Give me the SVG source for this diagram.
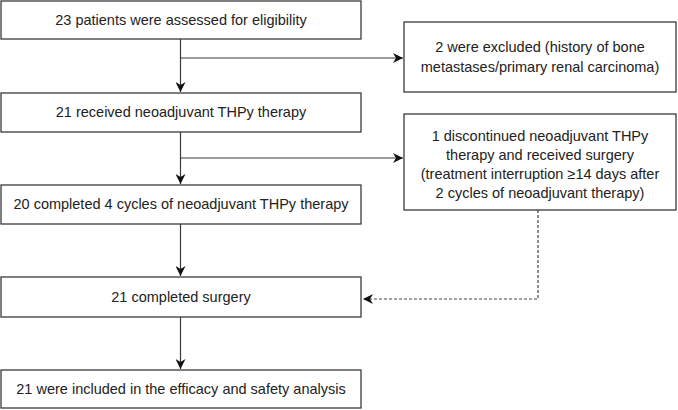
<svg xmlns="http://www.w3.org/2000/svg" width="678" height="410" viewBox="0 0 678 410">
<defs>
<style>
.box{fill:#fff;stroke:#3a3a3a;stroke-width:1.3}
.t{font-family:"Liberation Sans",Arial,sans-serif;font-size:14.5px;fill:#222;text-anchor:middle}
.c{fill:none;stroke:#3a3a3a;stroke-width:1.2}
.d{fill:none;stroke:#444;stroke-width:1.2;stroke-dasharray:3,2}
</style>
<marker id="ah" viewBox="0 0 10 10" refX="10" refY="5" markerWidth="10" markerHeight="10" markerUnits="userSpaceOnUse" orient="auto">
<path d="M0,0 L10,5 L0,10 L3,5 z" fill="#111"/>
</marker>
</defs>
<g id="connectors">
<path class="c" d="M180.5,39 V92" marker-end="url(#ah)"/>
<path class="c" d="M180.5,58 H403" marker-end="url(#ah)"/>
<path class="c" d="M180.5,132 V184" marker-end="url(#ah)"/>
<path class="c" d="M180.5,158 H403" marker-end="url(#ah)"/>
<path class="c" d="M180.5,224 V276" marker-end="url(#ah)"/>
<path class="c" d="M180.5,317 V369" marker-end="url(#ah)"/>
<path class="d" d="M538,210 V299 H363" marker-end="url(#ah)"/>
</g>
<g id="n1"><rect class="box" x="1" y="1" width="360" height="38"/><text class="t" x="181" y="25">23 patients were assessed for eligibility</text></g>
<g id="n2"><rect class="box" x="404" y="22" width="272" height="70"/><text class="t" x="540" y="52">2 were excluded (history of bone</text><text class="t" x="540" y="72">metastases/primary renal carcinoma)</text></g>
<g id="n3"><rect class="box" x="1" y="93" width="360" height="39"/><text class="t" x="181" y="117">21 received neoadjuvant THPy therapy</text></g>
<g id="n4"><rect class="box" x="404" y="114" width="272" height="96"/><text class="t" x="540" y="141">1 discontinued neoadjuvant THPy</text><text class="t" x="540" y="160">therapy and received surgery</text><text class="t" x="540" y="179">(treatment interruption ≥14 days after</text><text class="t" x="540" y="198">2 cycles of neoadjuvant therapy)</text></g>
<g id="n5"><rect class="box" x="1" y="185" width="360" height="39"/><text class="t" x="181" y="209">20 completed 4 cycles of neoadjuvant THPy therapy</text></g>
<g id="n6"><rect class="box" x="1" y="277" width="360" height="40"/><text class="t" x="181" y="302">21 completed surgery</text></g>
<g id="n7"><rect class="box" x="1" y="370" width="360" height="38"/><text class="t" x="181" y="394">21 were included in the efficacy and safety analysis</text></g>
</svg>
